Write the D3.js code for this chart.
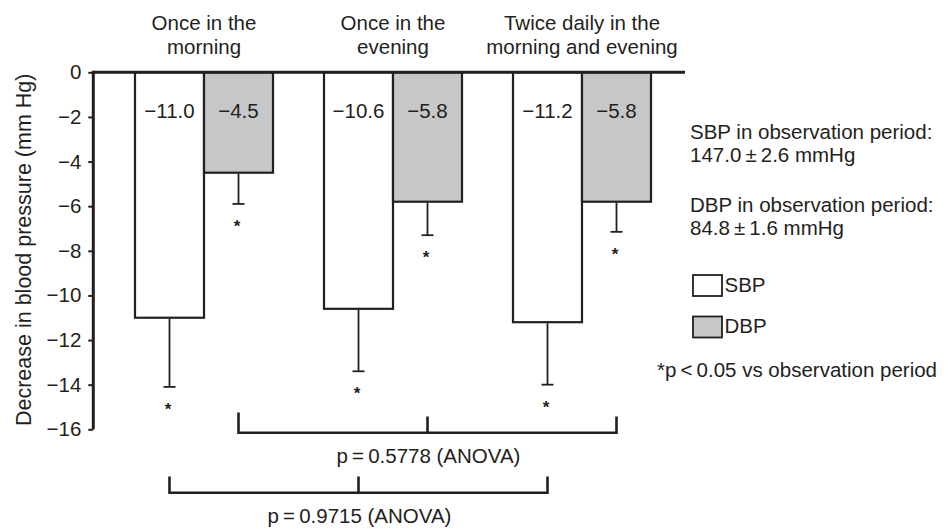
<!DOCTYPE html>
<html>
<head>
<meta charset="utf-8">
<script src="https://cdn.jsdelivr.net/npm/d3@7"></script>
<style>
  html, body { margin: 0; padding: 0; background: #fff; }
  svg { display: block; }
  text { font-family: "Liberation Sans", Arial, sans-serif; fill: #231f20; }
</style>
</head>
<body>
<svg id="chart" width="948" height="529"></svg>
<script>
// ---- data ----
const groups = ["Once in the morning", "Once in the evening", "Twice daily in the morning and evening"];
const groupLabels = [["Once in the", "morning"], ["Once in the", "evening"], ["Twice daily in the", "morning and evening"]];
const series = ["SBP", "DBP"];
const sbpValues = [-11.0, -10.6, -11.2];
const dbpValues = [-4.5, -5.8, -5.8];
const sbpErrors = [3.1, 2.8, 2.8];
const dbpErrors = [1.4, 1.5, 1.35];
const yTicks = [0, -2, -4, -6, -8, -10, -12, -14, -16];
const yLabel = "Decrease in blood pressure (mm Hg)";
const notes = ["SBP in observation period:", "147.0\u2009\u00b1\u20092.6 mmHg", "DBP in observation period:", "84.8\u2009\u00b1\u20091.6 mmHg"];
const sigNote = "*p\u2009<\u20090.05 vs observation period";
const anovaDBP = "p\u2009=\u20090.5778 (ANOVA)";
const anovaSBP = "p\u2009=\u20090.9715 (ANOVA)";

const fills = { SBP: "#ffffff", DBP: "#c6c7c9" };
const ink = "#231f20";
const FS = "20.5px";
const fmt = v => v.toFixed(1).replace("-", "\u2212");

const svg = d3.select("#chart");

const y = d3.scaleLinear().domain([0, -16]).range([72.3, 429.3]);
const x0 = d3.scaleBand().domain(groups).range([109.5, 676.5]).padding(0);
const x1 = d3.scaleBand().domain(series).range([-69, 69]).padding(0);

const data = groups.map((g, i) => ({
  group: g,
  bars: [
    { s: "SBP", v: sbpValues[i], e: sbpErrors[i] },
    { s: "DBP", v: dbpValues[i], e: dbpErrors[i] }
  ]
}));

// y axis
const yAxis = d3.axisLeft(y).tickValues(yTicks).tickSize(5).tickPadding(7)
  .tickFormat(d => d === 0 ? "0" : String(d).replace("-", "\u2212"));
const ya = svg.append("g").attr("transform", "translate(93.3,0)").call(yAxis);
ya.select(".domain").remove();
ya.selectAll(".tick line").attr("stroke", ink).attr("stroke-width", 2);
ya.selectAll(".tick text").style("font-size", FS).attr("fill", ink)
  .style("font-family", "'Liberation Sans', Arial, sans-serif");
svg.append("line").attr("x1", 93.3).attr("x2", 93.3).attr("y1", y(0) - 1.5).attr("y2", y(-16))
  .attr("stroke", ink).attr("stroke-width", 3);

// y label
svg.append("text")
  .attr("transform", `translate(30.5,${(y(0) + y(-16)) / 2 - 1}) rotate(-90)`)
  .attr("text-anchor", "middle")
  .style("font-size", "21.5px")
  .text(yLabel);

// category labels
data.forEach((d, i) => {
  const cx = x0(d.group) + x0.bandwidth() / 2;
  groupLabels[i].forEach((line, j) => {
    svg.append("text").attr("x", cx).attr("y", 29.5 + j * 24)
      .attr("text-anchor", "middle").style("font-size", FS).text(line);
  });
});

// bars
const gGroups = svg.selectAll(".grp").data(data).join("g")
  .attr("class", "grp")
  .attr("transform", d => `translate(${x0(d.group) + x0.bandwidth() / 2},0)`);

gGroups.selectAll("rect").data(d => d.bars).join("rect")
  .attr("x", b => x1(b.s))
  .attr("y", y(0))
  .attr("width", x1.bandwidth())
  .attr("height", b => y(b.v) - y(0))
  .attr("fill", b => fills[b.s])
  .attr("stroke", ink).attr("stroke-width", 2.2);

// error bars
gGroups.each(function (d) {
  const g = d3.select(this);
  d.bars.forEach(b => {
    const cx = x1(b.s) + x1.bandwidth() / 2;
    g.append("line").attr("x1", cx).attr("x2", cx)
      .attr("y1", y(b.v) + 1).attr("y2", y(b.v - b.e))
      .attr("stroke", ink).attr("stroke-width", 1.8);
    g.append("line").attr("x1", cx - 6).attr("x2", cx + 6)
      .attr("y1", y(b.v - b.e)).attr("y2", y(b.v - b.e))
      .attr("stroke", ink).attr("stroke-width", 1.8);
    g.append("text").attr("x", cx - 1.5).attr("y", y(b.v - b.e) + 28)
      .attr("text-anchor", "middle").style("font-size", "17px").style("font-weight", "bold").text("*");
    g.append("text").attr("x", cx).attr("y", y(-2) - 4)
      .attr("text-anchor", "middle").attr("dominant-baseline", "middle")
      .style("font-size", FS).text(fmt(b.v));
  });
});

// top zero line
svg.append("line").attr("x1", 93.3).attr("x2", 685).attr("y1", y(0)).attr("y2", y(0))
  .attr("stroke", ink).attr("stroke-width", 3);

// ANOVA brackets
function bracket(s, yLine, yTop, yMid, label, yText) {
  const xs = groups.map(g => x0(g) + x0.bandwidth() / 2 + x1(s) + x1.bandwidth() / 2);
  const gb = svg.append("g").attr("stroke", ink).attr("stroke-width", 2.6).attr("fill", "none");
  gb.append("path").attr("d",
    `M${xs[0]},${yTop} V${yLine} H${xs[2]} V${yMid} M${xs[1]},${yMid} V${yLine}`);
  svg.append("text").attr("x", xs[1] + 1).attr("y", yText)
    .attr("text-anchor", "middle").attr("dominant-baseline", "middle")
    .style("font-size", FS).text(label);
}
bracket("DBP", 432.7, 412.5, 416.5, anovaDBP, 458);
bracket("SBP", 492.7, 476.5, 476.5, anovaSBP, 518);

// notes
const noteY = [134, 157, 207, 230];
notes.forEach((t, i) => {
  svg.append("text").attr("x", 690).attr("y", noteY[i])
    .attr("dominant-baseline", "middle").style("font-size", FS).text(t);
});

// legend
const legY = [285.5, 327];
series.forEach((s, i) => {
  svg.append("rect").attr("x", 693).attr("y", legY[i] - 10.5).attr("width", 29).attr("height", 21)
    .attr("fill", fills[s]).attr("stroke", ink).attr("stroke-width", 1.8);
  svg.append("text").attr("x", 724.5).attr("y", legY[i] + 1)
    .attr("dominant-baseline", "middle").style("font-size", FS).text(s);
});
svg.append("text").attr("x", 657).attr("y", 372)
  .attr("dominant-baseline", "middle").style("font-size", FS).text(sigNote);
</script>
</body>
</html>
